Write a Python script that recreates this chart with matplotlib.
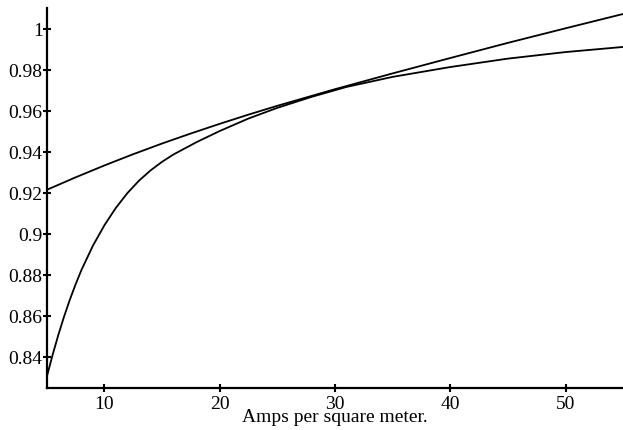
import matplotlib
matplotlib.use("Agg")
import matplotlib.pyplot as plt

# Data
x_lower = [5, 5.5, 6, 6.5, 7, 7.5, 8, 9, 10, 11, 12, 13, 14, 15, 16, 18, 20, 22.5, 25, 28, 31, 35, 40, 45, 50, 55]
y_lower = [0.8306, 0.8412, 0.8510, 0.8600, 0.8682, 0.8757, 0.8826, 0.8945, 0.9045, 0.9130, 0.9202, 0.9262,
           0.9312, 0.9354, 0.9390, 0.9450, 0.9504, 0.9565, 0.9617, 0.9671, 0.9719, 0.9768, 0.9816, 0.9857,
           0.9889, 0.9914]

x_upper = [5, 7.5, 10, 12.5, 15, 17.5, 20, 22.5, 25, 30, 35, 40, 45, 50, 55]
y_upper = [0.9217, 0.9278, 0.9336, 0.9391, 0.9443, 0.9492, 0.9539, 0.9584, 0.9627, 0.9708, 0.9785,
           0.9860, 0.9934, 1.0005, 1.0075]

x_ticks = [10, 20, 30, 40, 50]
y_ticks = [0.84, 0.86, 0.88, 0.9, 0.92, 0.94, 0.96, 0.98, 1.0]
y_ticklabels = ["0.84", "0.86", "0.88", "0.9", "0.92", "0.94", "0.96", "0.98", "1"]
x_label = "Amps per square meter."

plt.rcParams['font.family'] = ['Liberation Serif', 'DejaVu Serif']

fig = plt.figure(figsize=(6.23, 4.30), dpi=100)
ax = fig.add_axes([0.0752, 0.0988, 0.9253, 0.8819])

ax.plot(x_lower, y_lower, color='black', lw=1.3)
ax.plot(x_upper, y_upper, color='black', lw=1.3)

ax.set_xlim(5, 55)
ax.set_ylim(0.82527, 1.01024)

for s in ['top', 'right']:
    ax.spines[s].set_visible(False)
for s in ['left', 'bottom']:
    ax.spines[s].set_linewidth(1.6)

ax.set_xticks(x_ticks)
ax.set_xticklabels([str(t) for t in x_ticks])
ax.set_yticks(y_ticks)
ax.set_yticklabels(y_ticklabels)
ax.tick_params(axis='both', direction='inout', length=6, width=1.5, labelsize=14, pad=0)
ax.tick_params(axis='x', pad=3)

ax.annotate(x_label, xy=(30, 0), xycoords=('data', 'axes fraction'),
            xytext=(0, -30), textcoords='offset pixels', ha='center', va='center', fontsize=14)

fig.savefig("out.png", dpi=100, facecolor='white')
